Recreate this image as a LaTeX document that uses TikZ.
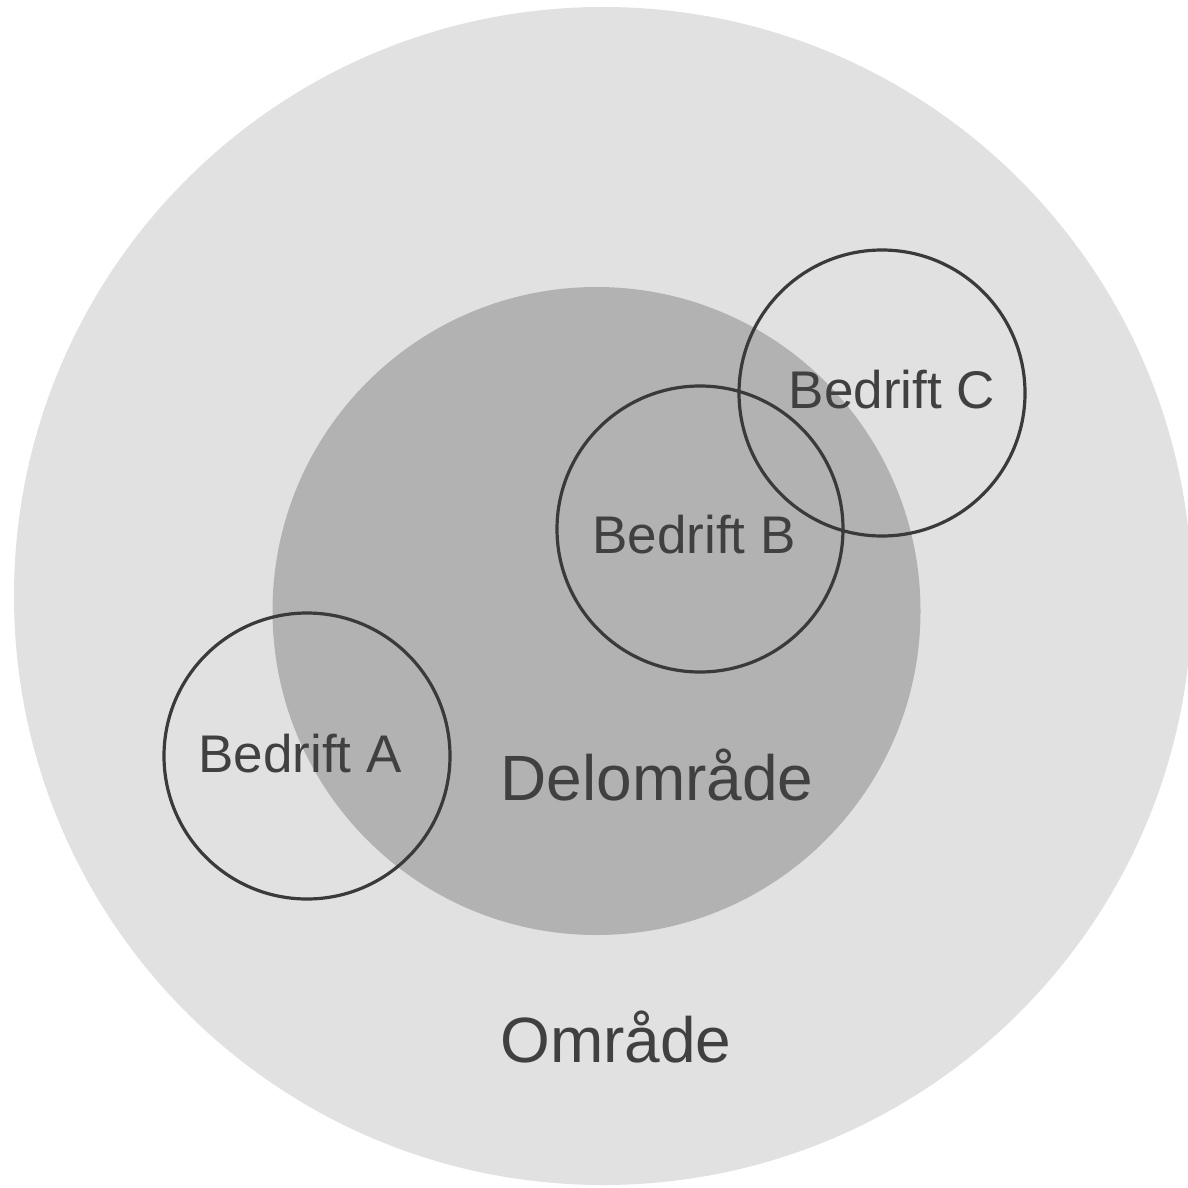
\documentclass[tikz,border=0pt]{standalone}
\usepackage{fontspec}
\setmainfont{Liberation Sans}
\definecolor{outerfill}{HTML}{E1E1E1}
\definecolor{innerfill}{HTML}{B2B2B2}
\definecolor{txt}{HTML}{404040}
\definecolor{ring}{HTML}{3A3A3A}
\begin{document}
\begin{tikzpicture}[x=0.5pt,y=-0.5pt,
  firm/.style={draw=ring,line width=1.6pt},
  small/.style={text=txt,font=\fontsize{26.5}{30}\selectfont,anchor=base},
  big/.style={text=txt,font=\fontsize{32}{36}\selectfont,anchor=base}]
\useasboundingbox (0,0) rectangle (1188,1188);
\fill[outerfill] (603,596) circle[radius=589];
\fill[innerfill] (596.5,611) circle[radius=324];
\draw[firm] (307,756) circle[radius=143];
\draw[firm] (700,529) circle[radius=143];
\draw[firm] (882,393) circle[radius=143];
\node[small] (a) at (300,772) {Bedrift A};
\node[small] (b) at (694,553) {Bedrift B};
\node[small] (c) at (892,408) {Bedrift C};
\node[big] (d) at (657,800) {Delområde};
\node[big] (o) at (616,1062) {Område};
\end{tikzpicture}
\end{document}
